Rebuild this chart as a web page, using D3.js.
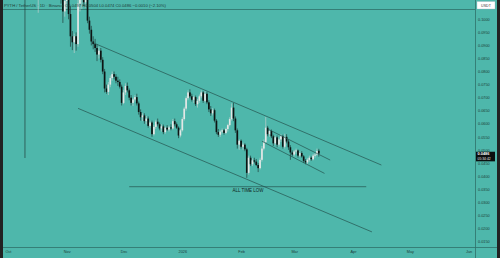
<!DOCTYPE html>
<html><head><meta charset="utf-8">
<script src="https://cdn.jsdelivr.net/npm/d3@7/dist/d3.min.js"></script>
<style>html,body{margin:0;padding:0;background:#4eb7ab;overflow:hidden}</style>
</head><body>
<script>
// ---- data ----
const startDate = "2025-10-10"; // first daily candle, one candle per day
const opens = [0.1420,0.1160,0.1200,0.1300,0.1280,0.1230,0.1170,0.1100,0.1140,0.1160,0.1210,0.1200,0.1170,0.1190,0.1220,0.1200,0.1110,0.1130,0.1150,0.1100,0.1080,0.1030,
0.1070,0.1110,0.1020,0.0935,0.0912,0.0935,0.0905,0.1060,0.1090,0.1100,0.1065,0.1095,0.0995,0.0960,0.0915,0.0905,0.0890,0.0865,0.0880,0.0845,0.0800,0.0735,0.0722,0.0750,0.0775,0.0790,0.0780,0.0765,0.0760,0.0742,
0.0680,0.0720,0.0745,0.0728,0.0700,0.0680,0.0693,0.0702,0.0678,0.0645,0.0625,0.0632,0.0610,0.0620,0.0592,0.0605,0.0560,0.0588,0.0608,0.0598,0.0582,0.0590,0.0568,0.0585,0.0578,0.0586,0.0582,0.0610,0.0598,0.0585,0.0555,
0.0575,0.0618,0.0658,0.0698,0.0720,0.0705,0.0692,0.0702,0.0675,0.0688,0.0705,0.0720,0.0688,0.0715,0.0682,0.0655,0.0640,0.0652,0.0612,0.0568,0.0558,0.0570,0.0575,0.0565,0.0580,0.0595,0.0618,0.0662,0.0620,0.0575,0.0520,
0.0535,0.0512,0.0520,0.0502,0.0412,0.0470,0.0445,0.0460,0.0455,0.0442,0.0430,0.0462,0.0505,0.0530,0.0585,0.0560,0.0572,0.0552,0.0525,0.0548,0.0520,0.0540,0.0552,0.0512,0.0550,0.0532,0.0510,0.0490,
0.0482,0.0494,0.0498,0.0478,0.0488,0.0475,0.0458,0.0452,0.0462,0.0470,0.0464,0.0478,0.0482,0.0497];
const highs = [0.1450,0.1250,0.1350,0.1340,0.1320,0.1270,0.1200,0.1160,0.1190,0.1230,0.1260,0.1250,0.1210,0.1240,0.1260,0.1220,0.1150,0.1170,0.1180,0.1120,0.1100,0.1090,
0.1130,0.1140,0.1050,0.0955,0.0945,0.0950,0.1090,0.1120,0.1150,0.1130,0.1110,0.1105,0.1010,0.0975,0.0935,0.0925,0.0905,0.0895,0.0890,0.0855,0.0810,0.0750,0.0760,0.0785,0.0800,0.0800,0.0790,0.0780,0.0770,0.0750,
0.0730,0.0755,0.0758,0.0735,0.0710,0.0700,0.0710,0.0715,0.0685,0.0655,0.0640,0.0640,0.0630,0.0628,0.0612,0.0612,0.0595,0.0615,0.0620,0.0605,0.0598,0.0597,0.0590,0.0595,0.0592,0.0598,0.0618,0.0620,0.0605,0.0590,0.0580,
0.0625,0.0665,0.0705,0.0728,0.0732,0.0715,0.0708,0.0708,0.0695,0.0712,0.0728,0.0725,0.0725,0.0722,0.0690,0.0668,0.0660,0.0658,0.0618,0.0580,0.0575,0.0582,0.0580,0.0585,0.0600,0.0625,0.0678,0.0680,0.0628,0.0582,0.0540,
0.0540,0.0528,0.0525,0.0508,0.0478,0.0478,0.0468,0.0470,0.0465,0.0450,0.0470,0.0515,0.0540,0.0626,0.0592,0.0578,0.0578,0.0558,0.0555,0.0555,0.0548,0.0560,0.0558,0.0562,0.0560,0.0540,0.0518,0.0498,
0.0500,0.0505,0.0502,0.0495,0.0495,0.0480,0.0465,0.0468,0.0478,0.0475,0.0485,0.0488,0.0505,0.0504];
const lows = [0.0469,0.1100,0.1150,0.1250,0.1210,0.1150,0.1080,0.1025,0.1110,0.1140,0.1180,0.1150,0.1130,0.1160,0.1180,0.1090,0.1080,0.1090,0.1080,0.1060,0.0986,0.1010,
0.1040,0.1000,0.0895,0.0882,0.0871,0.0880,0.0895,0.1030,0.1040,0.1050,0.1045,0.0985,0.0945,0.0900,0.0885,0.0875,0.0840,0.0850,0.0835,0.0790,0.0720,0.0715,0.0710,0.0740,0.0765,0.0770,0.0755,0.0745,0.0735,0.0670,
0.0675,0.0710,0.0720,0.0690,0.0670,0.0668,0.0685,0.0670,0.0635,0.0612,0.0610,0.0600,0.0598,0.0585,0.0585,0.0550,0.0555,0.0580,0.0590,0.0575,0.0570,0.0560,0.0562,0.0572,0.0570,0.0575,0.0578,0.0590,0.0580,0.0545,0.0548,
0.0570,0.0612,0.0650,0.0690,0.0698,0.0685,0.0680,0.0668,0.0662,0.0680,0.0698,0.0680,0.0682,0.0675,0.0645,0.0630,0.0632,0.0605,0.0560,0.0550,0.0550,0.0562,0.0558,0.0560,0.0570,0.0590,0.0612,0.0610,0.0565,0.0505,0.0500,
0.0505,0.0500,0.0495,0.0393,0.0405,0.0438,0.0438,0.0448,0.0438,0.0415,0.0425,0.0455,0.0498,0.0525,0.0552,0.0550,0.0545,0.0515,0.0518,0.0510,0.0512,0.0530,0.0505,0.0505,0.0525,0.0500,0.0462,0.0475,
0.0475,0.0485,0.0470,0.0472,0.0470,0.0450,0.0445,0.0446,0.0455,0.0458,0.0460,0.0470,0.0478,0.0474];
const closes = [0.1160,0.1200,0.1300,0.1280,0.1230,0.1170,0.1100,0.1140,0.1160,0.1210,0.1200,0.1170,0.1190,0.1220,0.1200,0.1110,0.1130,0.1150,0.1100,0.1080,0.1030,0.1070,
0.1110,0.1020,0.0935,0.0912,0.0935,0.0905,0.1060,0.1090,0.1100,0.1065,0.1095,0.0995,0.0960,0.0915,0.0905,0.0890,0.0865,0.0880,0.0845,0.0800,0.0735,0.0722,0.0750,0.0775,0.0790,0.0780,0.0765,0.0760,0.0742,0.0680,
0.0720,0.0745,0.0728,0.0700,0.0680,0.0693,0.0702,0.0678,0.0645,0.0625,0.0632,0.0610,0.0620,0.0592,0.0605,0.0560,0.0588,0.0608,0.0598,0.0582,0.0590,0.0568,0.0585,0.0578,0.0586,0.0582,0.0610,0.0598,0.0585,0.0555,0.0575,
0.0618,0.0658,0.0698,0.0720,0.0705,0.0692,0.0702,0.0675,0.0688,0.0705,0.0720,0.0688,0.0715,0.0682,0.0655,0.0640,0.0652,0.0612,0.0568,0.0558,0.0570,0.0575,0.0565,0.0580,0.0595,0.0618,0.0662,0.0620,0.0575,0.0520,0.0535,
0.0512,0.0520,0.0502,0.0412,0.0470,0.0445,0.0460,0.0455,0.0442,0.0430,0.0462,0.0505,0.0530,0.0585,0.0560,0.0572,0.0552,0.0525,0.0548,0.0520,0.0540,0.0552,0.0512,0.0550,0.0532,0.0510,0.0490,0.0482,
0.0494,0.0498,0.0478,0.0488,0.0475,0.0458,0.0452,0.0462,0.0470,0.0464,0.0478,0.0482,0.0496,0.0486];

const priceTicks = [0.1000,0.0950,0.0900,0.0850,0.0800,0.0750,0.0700,0.0650,0.0600,0.0550,0.0500,0.0450,0.0400,0.0350,0.0300,0.0250,0.0200,0.0150];
const monthTickDates = ["2025-10-01","2025-11-01","2025-12-01","2026-01-01","2026-02-01","2026-03-01","2026-04-01","2026-05-01","2026-06-01"];
const monthTickLabels = ["Oct","Nov","Dec","2026","Feb","Mar","Apr","May","Jun"];

// drawn lines: [startDate, startPrice, endDate, endPrice]
const trendLines = [
  ["2025-11-15",0.0910,"2026-04-16",0.0442],
  ["2025-11-07",0.0659,"2026-04-11",0.0186],
  ["2026-02-15",0.0580,"2026-03-20",0.0461],
  ["2026-02-12",0.0533,"2026-03-17",0.0410]
];
const atlLine = {from:"2025-12-04", to:"2026-04-08", price:0.0359, label:"ALL TIME LOW"};
const headerText = "PYTH / TetherUS · 1D · Binance  O0.0497 H0.0504 L0.0474 C0.0486 −0.0010 (−2.10%)";
const lastPrice = 0.0486, countdown = "05:34:42", quote = "USDT";

// ---- drawing ----
const W = 500, H = 258;
const parse = d3.utcParse("%Y-%m-%d");
const x = d3.scaleUtc().domain([parse("2025-10-01"), parse("2026-06-01")]).range([7.9, 468.6]);
const y = d3.scaleLinear().domain([0.015, 0.1]).range([241.3, 19.3]);
const start = parse(startDate);
const candles = closes.map((c,i)=>({date:d3.utcDay.offset(start,i),o:opens[i],h:highs[i],l:lows[i],c:c}));

const svg = d3.select("body").append("svg").attr("width",W).attr("height",H)
  .style("font-family","'Liberation Sans', Arial, sans-serif");
svg.append("rect").attr("width",W).attr("height",H).attr("fill","#4eb7ab");

svg.append("defs").append("clipPath").attr("id","plot").append("rect")
  .attr("x",3).attr("y",0).attr("width",472).attr("height",247);
const plot = svg.append("g").attr("clip-path","url(#plot)");

// top line
plot.append("line").attr("x1",3).attr("x2",475).attr("y1",9.5).attr("y2",9.5)
  .attr("stroke","#2f7169").attr("stroke-width",0.8);

// candles
const bw = 1.7;
const cg = plot.append("g");
cg.selectAll("line.wick").data(candles).join("line").attr("class","wick")
  .attr("x1",d=>x(d.date)).attr("x2",d=>x(d.date))
  .attr("y1",d=>y(d.h)).attr("y2",d=>y(d.l))
  .attr("stroke",d=>d.c>=d.o?"#c2d0ce":"#1f3a37").attr("stroke-width",0.75).attr("stroke-opacity",0.9);
cg.selectAll("rect.body").data(candles).join("rect").attr("class","body")
  .attr("x",d=>x(d.date)-bw/2).attr("width",bw)
  .attr("y",d=>y(Math.max(d.o,d.c)))
  .attr("height",d=>Math.max(0.6,Math.abs(y(d.o)-y(d.c))))
  .attr("fill",d=>d.c>=d.o?"#e2e8e6":"#0d1413");

// trend lines
plot.selectAll("line.trend").data(trendLines).join("line").attr("class","trend")
  .attr("x1",d=>x(parse(d[0]))).attr("y1",d=>y(d[1]))
  .attr("x2",d=>x(parse(d[2]))).attr("y2",d=>y(d[3]))
  .attr("stroke","#24524d").attr("stroke-width",0.7);

// ATL line
plot.append("line").attr("x1",x(parse(atlLine.from))).attr("x2",x(parse(atlLine.to)))
  .attr("y1",y(atlLine.price)).attr("y2",y(atlLine.price))
  .attr("stroke","#24524d").attr("stroke-width",0.7);
plot.append("text").attr("x",248).attr("y",y(atlLine.price)+5.6)
  .attr("text-anchor","middle").attr("font-size",4.6).attr("fill","#0f2421")
  .attr("textLength",31).attr("lengthAdjust","spacingAndGlyphs").text(atlLine.label);

// header
svg.append("text").attr("x",4).attr("y",6.6).attr("font-size",4.2).attr("fill","#1d3d39")
  .attr("textLength",162).attr("lengthAdjust","spacingAndGlyphs").text(headerText);

// axes separators
svg.append("line").attr("x1",475.5).attr("x2",475.5).attr("y1",0).attr("y2",258).attr("stroke","#2f7169").attr("stroke-width",0.8);
svg.append("line").attr("x1",3).attr("x2",497).attr("y1",247.5).attr("y2",247.5).attr("stroke","#2f7169").attr("stroke-width",0.8);

// right price axis
const ay = svg.append("g").attr("transform","translate(476,0)")
  .call(d3.axisRight(y).tickValues(priceTicks).tickSize(0).tickPadding(2).tickFormat(d3.format(".4f")));
ay.select(".domain").remove();
ay.selectAll("text").attr("font-size",3.8).attr("fill","#1d3d39").attr("font-family","'Liberation Sans', Arial, sans-serif");

// bottom time axis
const ax = svg.append("g").attr("transform","translate(0,248)")
  .call(d3.axisBottom(x).tickValues(monthTickDates.map(parse)).tickSize(0).tickPadding(2)
    .tickFormat((d,i)=>monthTickLabels[i]));
ax.select(".domain").remove();
ax.selectAll("text").attr("font-size",3.8).attr("fill","#1d3d39").attr("font-family","'Liberation Sans', Arial, sans-serif");

// USDT box
svg.append("rect").attr("x",477).attr("y",1.5).attr("width",18).attr("height",7.5).attr("fill","#ffffff").attr("stroke","#9ab").attr("stroke-width",0.3);
svg.append("text").attr("x",486).attr("y",6.6).attr("text-anchor","middle").attr("font-size",3.6).attr("fill","#333").text(quote);

// last price label
const ly = y(lastPrice);
svg.append("rect").attr("x",476).attr("y",ly-1.8).attr("width",19).attr("height",9.6).attr("fill","#0b0f0f");
svg.append("text").attr("x",477.5).attr("y",ly+1.9).attr("font-size",3.9).attr("font-weight","bold").attr("fill","#fff").text(d3.format(".4f")(lastPrice));
svg.append("text").attr("x",477.5).attr("y",ly+6.2).attr("font-size",3.4).attr("fill","#e8e8e8").text(countdown);

// borders
svg.append("rect").attr("x",0).attr("y",0).attr("width",3).attr("height",H).attr("fill","#222");
svg.append("rect").attr("x",497).attr("y",0).attr("width",3).attr("height",H).attr("fill","#222");
</script>
</body></html>
